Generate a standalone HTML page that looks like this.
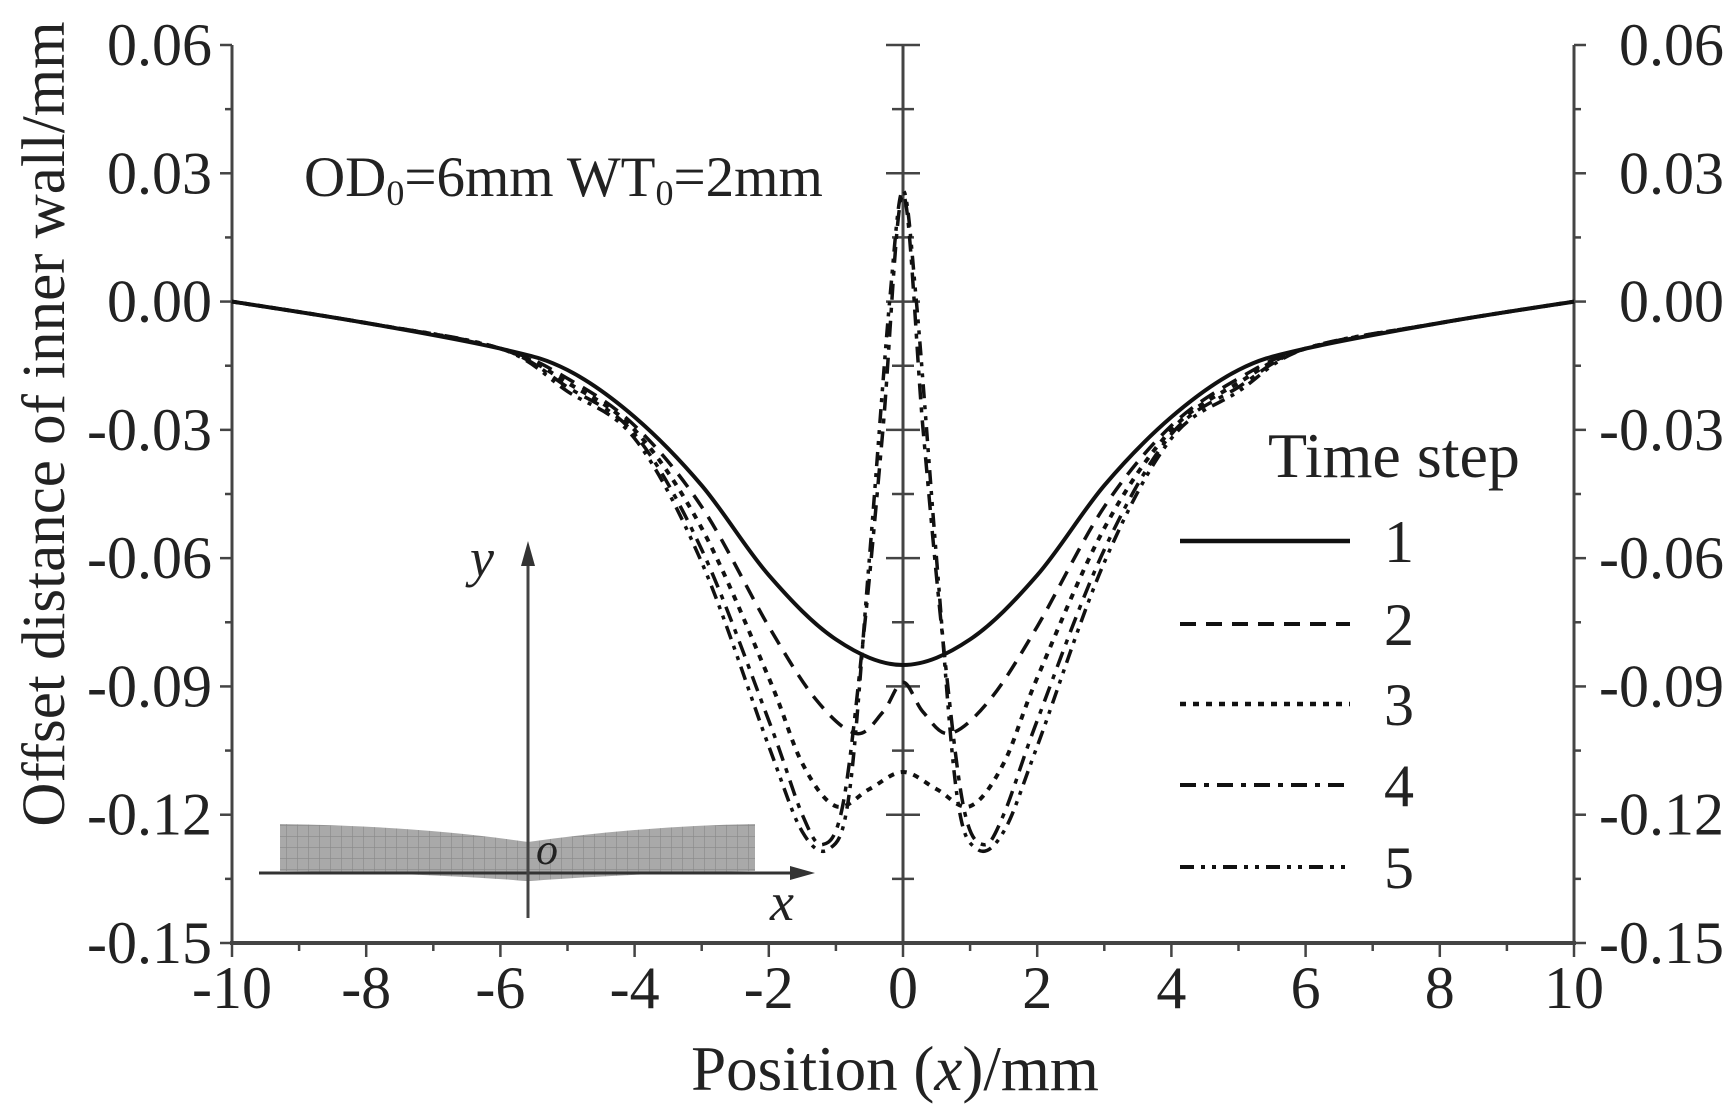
<!DOCTYPE html>
<html><head><meta charset="utf-8"><style>
html,body{margin:0;padding:0;background:#fff;}
svg{display:block;}
text{font-family:"Liberation Serif",serif;fill:#222;}
</style></head><body>
<svg id="s" width="1733" height="1113" viewBox="0 0 1733 1113" xmlns="http://www.w3.org/2000/svg">
<g id="inset">
  <defs>
    <pattern id="grid" width="11" height="11" patternUnits="userSpaceOnUse">
      <rect width="11" height="11" fill="#a9a9a9"/>
      <path d="M0 0H11M0 0V11" stroke="#888" stroke-width="1.2"/>
    </pattern>
  </defs>
  <path d="M280 824 Q420 826 528 842 Q640 826 755 824 L755 871 Q640 873 528 881 Q420 873 280 871 Z" fill="url(#grid)"/>
  <line x1="259" y1="873" x2="800" y2="873" stroke="#333" stroke-width="3"/>
  <polygon points="815,873 790,866 790,880" fill="#333"/>
  <line x1="528" y1="918" x2="528" y2="558" stroke="#444" stroke-width="3"/>
  <polygon points="528,541 521,566 535,566" fill="#333"/>
  <text x="470" y="576" font-size="54" font-style="italic">y</text>
  <text x="770" y="920" font-size="54" font-style="italic">x</text>
  <text x="536" y="864" font-size="44" font-style="italic">o</text>
</g>
<g id="axes" stroke="#444" fill="none"></g>
<g id="curves" fill="none" stroke="#111" stroke-width="3.5"></g>
<text x="304" y="196" font-size="57">OD<tspan font-size="36" dy="9">0</tspan><tspan dy="-9">=6mm  WT</tspan><tspan font-size="36" dy="9">0</tspan><tspan dy="-9">=2mm</tspan></text>
<text x="1268" y="477" font-size="64">Time step</text>
<text transform="translate(64,424) rotate(-90)" text-anchor="middle" font-size="61">Offset distance of inner wall/mm</text>
<text x="895" y="1090" text-anchor="middle" font-size="63">Position (<tspan font-style="italic">x</tspan>)/mm</text>
<g id="labels" font-size="60"></g>
</svg>
<script>
var NS="http://www.w3.org/2000/svg";
function X(x){return 232+(x+10)*67.1;}
function Y(v){return 45+(0.06-v)/0.21*898;}
function el(p,tag,a,t){var e=document.createElementNS(NS,tag);for(var k in a)e.setAttribute(k,a[k]);if(t!==undefined)e.textContent=t;p.appendChild(e);return e;}
var ax=document.getElementById('axes'),lb=document.getElementById('labels'),cv=document.getElementById('curves');
el(ax,'line',{x1:232,y1:45,x2:232,y2:945,'stroke-width':3});
el(ax,'line',{x1:1574,y1:45,x2:1574,y2:945,'stroke-width':3});
el(ax,'line',{x1:230,y1:943,x2:1576,y2:943,'stroke-width':4});
el(ax,'line',{x1:X(0),y1:45,x2:X(0),y2:943,'stroke-width':3});
for(var i=0;i<=14;i++){var v=0.06-i*0.015,y=Y(v),maj=i%2==0;
 el(ax,'line',{x1:232-(maj?12:7),y1:y,x2:232,y2:y,'stroke-width':2.5});
 el(ax,'line',{x1:1574,y1:y,x2:1574+(maj?12:7),y2:y,'stroke-width':2.5});
 el(ax,'line',{x1:X(0)-(maj?17:11),y1:y,x2:X(0)+(maj?17:11),y2:y,'stroke-width':2.5});
 if(maj){var s=v.toFixed(2);if(Math.abs(v)<1e-9)s="0.00";
  el(lb,'text',{x:212,y:y+20,'text-anchor':'end'},s);
  el(lb,'text',{x:1724,y:y+20,'text-anchor':'end'},s);}
}
for(var x=-10;x<=10;x++){var xx=X(x),maj=x%2==0;
 el(ax,'line',{x1:xx,y1:943,x2:xx,y2:943+(maj?14:8),'stroke-width':2.5});
 if(maj) el(lb,'text',{x:xx,y:1008,'text-anchor':'middle'},String(x));}
var tail=[[-10,0],[-8,-0.005],[-6,-0.011]];
var C=[
 {d:[[-5,-0.016],[-4,-0.027],[-3,-0.043],[-2,-0.064],[-1,-0.079],[0,-0.085]],da:null,w:4},
 {d:[[-5,-0.018],[-4,-0.029],[-3,-0.048],[-2,-0.076],[-1.3,-0.093],[-0.7,-0.101],[-0.3,-0.096],[0,-0.089]],da:"16 10",w:3.5},
 {d:[[-5,-0.019],[-4,-0.030],[-3,-0.053],[-2,-0.088],[-1.5,-0.108],[-1,-0.118],[-0.5,-0.114],[0,-0.110]],da:"6 7",w:4},
 {d:[[-5,-0.020],[-4,-0.031],[-3,-0.058],[-2,-0.098],[-1.5,-0.12],[-1.2,-0.127],[-0.9,-0.118],[-0.6,-0.08],[-0.3,-0.03],[0,0.025]],da:"16 8 5 8",w:3.5},
 {d:[[-5,-0.021],[-4,-0.032],[-3,-0.061],[-2,-0.104],[-1.5,-0.124],[-1.1,-0.128],[-0.8,-0.115],[-0.5,-0.06],[-0.2,0.0],[0,0.026]],da:"14 7 4 7 4 7",w:3.5}
];
function path(pts){var p=pts.map(function(a){return [X(a[0]),Y(a[1])];});
 var d="M"+p[0][0]+" "+p[0][1];
 for(var i=0;i<p.length-1;i++){var p0=p[Math.max(0,i-1)],p1=p[i],p2=p[i+1],p3=p[Math.min(p.length-1,i+2)];
  var c1=[p1[0]+(p2[0]-p0[0])/6,p1[1]+(p2[1]-p0[1])/6],c2=[p2[0]-(p3[0]-p1[0])/6,p2[1]-(p3[1]-p1[1])/6];
  d+=" C"+c1[0].toFixed(1)+" "+c1[1].toFixed(1)+" "+c2[0].toFixed(1)+" "+c2[1].toFixed(1)+" "+p2[0].toFixed(1)+" "+p2[1].toFixed(1);}
 return d;}
C.forEach(function(c){var left=tail.concat(c.d);var right=left.slice(0,-1).reverse().map(function(a){return [-a[0],a[1]];});
 var pts=left.concat(right);var a={d:path(pts),'stroke-width':c.w};if(c.da)a['stroke-dasharray']=c.da;el(cv,'path',a);});
var ly=[541,624,704,785,867];
C.forEach(function(c,i){var a={x1:1180,y1:ly[i],x2:1350,y2:ly[i],'stroke-width':c.w+0.5};if(c.da)a['stroke-dasharray']=c.da;el(cv,'line',a);
 el(lb,'text',{x:1384,y:ly[i]+21,'font-size':60},String(i+1));});
</script>
</body></html>
